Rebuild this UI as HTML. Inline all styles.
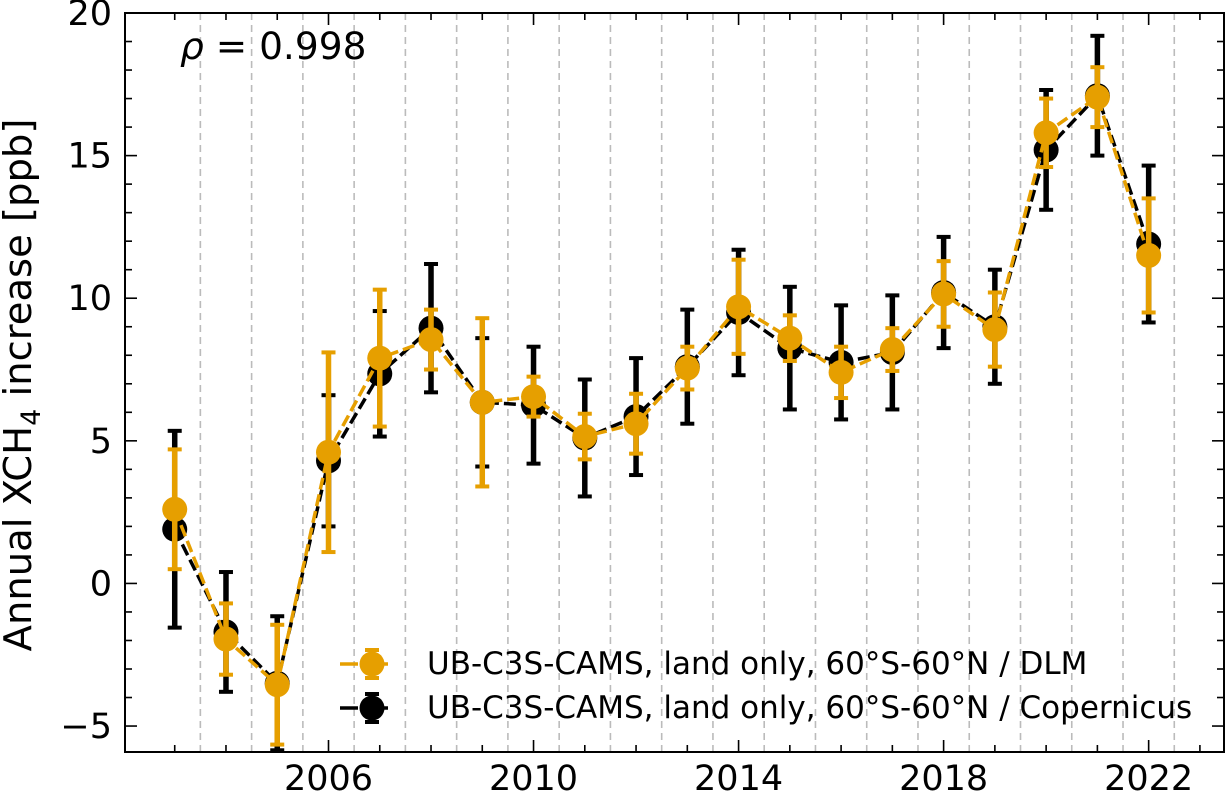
<!DOCTYPE html>
<html><head><meta charset="utf-8"><style>
body{margin:0;background:#fff}
svg{display:block;font-family:"DejaVu Sans","Liberation Sans",sans-serif}
</style></head><body>
<svg id="chart" width="1226" height="797" xmlns="http://www.w3.org/2000/svg"></svg>
<script>
const years=[2003,2004,2005,2006,2007,2008,2009,2010,2011,2012,2013,2014,2015,2016,2017,2018,2019,2020,2021,2022];
const copVals=[1.9,-1.7,-3.5,4.3,7.35,8.95,6.35,6.25,5.1,5.85,7.6,9.5,8.25,7.75,8.1,10.2,9.0,15.2,17.1,11.9];
const copErr=[3.45,2.1,2.35,2.3,2.2,2.25,2.25,2.05,2.05,2.05,2.0,2.2,2.15,2.0,2.0,1.95,2.0,2.1,2.1,2.75];
const dlmVals=[2.6,-1.95,-3.55,4.6,7.9,8.55,6.35,6.55,5.15,5.6,7.55,9.7,8.6,7.4,8.2,10.15,8.9,15.8,17.05,11.5];
const dlmErr=[2.1,1.25,2.1,3.5,2.4,1.05,2.95,0.7,0.8,1.05,0.75,1.65,0.8,0.9,0.75,1.15,1.3,1.2,1.05,2.0];
const yTicks=[-5,0,5,10,15,20];
const xTicks=[2006,2010,2014,2018,2022];

const L=125,R=1224,T=13,B=752;
const x0=2002.03,x1=2023.47,y0=-5.91,y1=20;
const X=v=>L+(v-x0)/(x1-x0)*(R-L);
const Y=v=>B-(v-y0)/(y1-y0)*(B-T);
const svg=document.getElementById('chart');
const NS='http://www.w3.org/2000/svg';
function mk(tag,attrs,parent){const e=document.createElementNS(NS,tag);for(const k in attrs)e.setAttribute(k,attrs[k]);(parent||svg).appendChild(e);return e;}

for(let yr=2003.5;yr<x1;yr+=1){
  const g=mk('line',{x1:X(yr),x2:X(yr),y1:T,y2:B,stroke:'#bbb','stroke-width':1.6,'stroke-dasharray':'7,5'});
  
  
}
for(let v=Math.ceil(y0);v<=y1;v++){
  const maj=yTicks.includes(v);const len=maj?12:7;
  mk('line',{x1:L,x2:L+len,y1:Y(v),y2:Y(v),stroke:'#000','stroke-width':1.6});
  mk('line',{x1:R,x2:R-len,y1:Y(v),y2:Y(v),stroke:'#000','stroke-width':1.6});
}
for(let v=2003;v<x1;v++){
  const maj=xTicks.includes(v);const len=maj?12:7;
  mk('line',{x1:X(v),x2:X(v),y1:B,y2:B-len,stroke:'#000','stroke-width':1.6});
  mk('line',{x1:X(v),x2:X(v),y1:T,y2:T+len,stroke:'#000','stroke-width':1.6});
}
yTicks.forEach(v=>{
  const t=mk('text',{x:L-13,y:Y(v)+12,'text-anchor':'end','font-size':35});
  t.textContent=(v<0?'\u2212'+(-v):v);
  
  
});
xTicks.forEach(v=>{
  const t=mk('text',{x:X(v),y:B+38,'text-anchor':'middle','font-size':35});
  t.textContent=v;
  
  
});

function series(vals,errs,color,name){
  const g=mk('g',{});
  
  
  vals.forEach((v,i)=>{
    const x=X(years[i]);
    mk('line',{x1:x,x2:x,y1:Y(v-errs[i]),y2:Y(v+errs[i]),stroke:color,'stroke-width':5.5},g);
    [v-errs[i],v+errs[i]].forEach(c=>mk('line',{x1:x-7,x2:x+7,y1:Y(c),y2:Y(c),stroke:color,'stroke-width':4},g));
  });
  mk('polyline',{points:vals.map((v,i)=>X(years[i])+','+Y(v)).join(' '),fill:'none',stroke:color,'stroke-width':3.5,'stroke-dasharray':'12,5'},g);
  vals.forEach((v,i)=>{
    const c=mk('circle',{cx:X(years[i]),cy:Y(v),r:12.5,fill:color},g);
    
    
  });
}
series(copVals,copErr,'#000','series-copernicus');
series(dlmVals,dlmErr,'#E69F00','series-dlm');

mk('rect',{x:L,y:T,width:R-L,height:B-T,fill:'none',stroke:'#000','stroke-width':2});

const rho=mk('text',{x:180,y:59,'font-size':37.5});
rho.innerHTML='<tspan font-style="italic">ρ</tspan> = 0.998';



const yl=mk('text',{transform:'translate(31,385) rotate(-90)','text-anchor':'middle','font-size':38.5});
yl.innerHTML='Annual XCH<tspan font-size="27" dy="9">4</tspan><tspan dy="-9"> increase [ppb]</tspan>';



function legend(y,color,label){
  const g=mk('g',{});
  
  
  mk('line',{x1:340,x2:400,y1:y,y2:y,stroke:color,'stroke-width':3.5,'stroke-dasharray':'18,12'},g);
  mk('line',{x1:372,x2:372,y1:y-14,y2:y+14,stroke:color,'stroke-width':5.5},g);
  mk('line',{x1:365,x2:379,y1:y-14,y2:y-14,stroke:color,'stroke-width':4},g);
  mk('line',{x1:365,x2:379,y1:y+14,y2:y+14,stroke:color,'stroke-width':4},g);
  mk('circle',{cx:372,cy:y,r:12.5,fill:color},g);
  const t=mk('text',{x:427,y:y+10,'font-size':31},g);t.textContent=label;
}
legend(664,'#E69F00','UB-C3S-CAMS, land only, 60°S-60°N / DLM');
legend(708,'#000','UB-C3S-CAMS, land only, 60°S-60°N / Copernicus');
</script>
</body></html>
